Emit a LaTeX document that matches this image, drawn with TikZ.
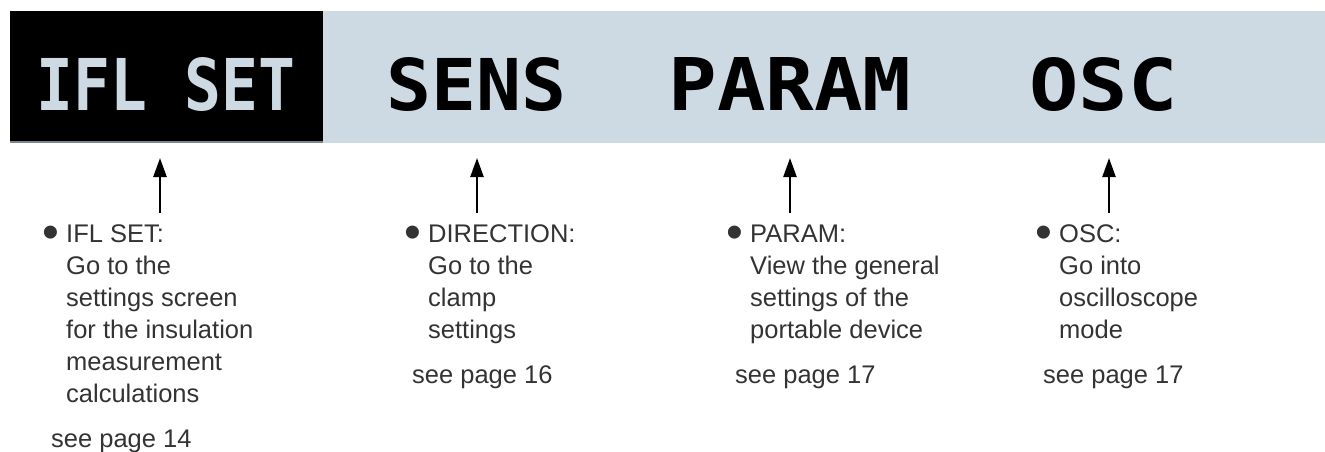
\documentclass[tikz,border=0pt]{standalone}
\usepackage{fontspec}
\setmainfont{Liberation Sans}
\newfontfamily\lcd{DejaVu Sans Mono}
\usetikzlibrary{arrows.meta}
\definecolor{lcdblue}{HTML}{CDD9E3}
\definecolor{txt}{HTML}{333333}
\definecolor{edgegrey}{HTML}{7A8690}
\newcommand{\bul}{\llap{{\fontsize{48}{32}\selectfont\raisebox{-6.5pt}{•}}\hspace{7pt}}}
\begin{document}
\begin{tikzpicture}[x=1pt,y=-1pt,
  lcdlabel/.style={inner sep=0pt, anchor=base, font=\lcd\bfseries},
  desc/.style={inner sep=0pt, anchor=base west, text=txt, font=\fontsize{25.5}{32}\selectfont},
  arr/.style={line width=2.4pt, draw=black, -{Triangle[width=13pt,length=19pt]}},
]
\useasboundingbox (0,0) rectangle (1325,452);
% display bar
\fill[lcdblue] (10,11) rectangle (1325,143);
\fill[black] (10,11) rectangle (323,141);
\fill[edgegrey] (10,141) rectangle (323,143);
% display labels
\node[lcdlabel, text=lcdblue] (ifl) at (166,110) {\resizebox{258pt}{53pt}{IFL SET}};
\node[lcdlabel, text=black] (sens) at (476.5,110) {\resizebox{180pt}{53pt}{SENS}};
\node[lcdlabel, text=black] (param) at (790,110) {\resizebox{243pt}{53pt}{PARAM}};
\node[lcdlabel, text=black] (osc) at (1103.5,110) {\resizebox{148pt}{53pt}{OSC}};
% descriptions
\node[desc] (d1) at (66,242) {\begin{tabular}[t]{@{}l@{}}\bul IFL SET:\\Go to the\\settings screen\\for the insulation\\measurement\\calculations\end{tabular}};
\node[desc] (d2) at (428,242) {\begin{tabular}[t]{@{}l@{}}\bul DIRECTION:\\Go to the\\clamp\\settings\end{tabular}};
\node[desc] (d3) at (750,242) {\begin{tabular}[t]{@{}l@{}}\bul PARAM:\\View the general\\settings of the\\portable device\end{tabular}};
\node[desc] (d4) at (1059,242) {\begin{tabular}[t]{@{}l@{}}\bul OSC:\\Go into\\oscilloscope\\mode\end{tabular}};
% page references
\node[desc] (p1) at (51,447) {see page 14};
\node[desc] (p2) at (412,383) {see page 16};
\node[desc] (p3) at (735,383) {see page 17};
\node[desc] (p4) at (1043,383) {see page 17};
% arrow ends
\coordinate (s1) at (160,213); \coordinate (e1) at (160,158);
\coordinate (s2) at (477,213); \coordinate (e2) at (477,158);
\coordinate (s3) at (790,213); \coordinate (e3) at (790,158);
\coordinate (s4) at (1109,213); \coordinate (e4) at (1109,158);
\draw[arr] (s1) -- (e1);
\draw[arr] (s2) -- (e2);
\draw[arr] (s3) -- (e3);
\draw[arr] (s4) -- (e4);
\end{tikzpicture}
\end{document}
